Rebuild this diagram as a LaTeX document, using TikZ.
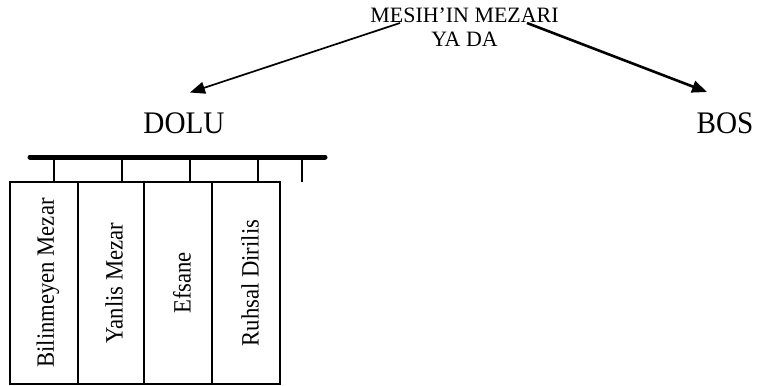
\documentclass[tikz,border=0pt]{standalone}
\usepackage{fontspec}
\setmainfont{Liberation Serif}
\newfontfamily\condserif[FakeStretch=0.91]{Liberation Serif}
\newfontfamily\bigserif[FakeStretch=0.93]{Liberation Serif}
\usetikzlibrary{arrows.meta,calc}
\begin{document}
\begin{tikzpicture}[x=1bp,y=-1bp,
  txt/.style={inner sep=0pt,font=\fontsize{22}{24}\selectfont},
  big/.style={inner sep=0pt,font=\bigserif\fontsize{31.5}{34}\selectfont},
  arr/.style={-{Triangle[length=15bp,width=12bp]}},
  colbox/.style={draw,line width=1.3bp,minimum height=202bp,inner sep=0pt},
  vlabel/.style={inner sep=0pt,rotate=90,font=\condserif\fontsize{25}{27}\selectfont},
  tick/.style={line width=1.3bp},
  bar/.style={line width=5bp,line cap=round}]
\useasboundingbox (0,0) rectangle (757,385);
% title
\node[txt,align=center,anchor=base] (title) at (464.5,46.7) {MESIH’IN MEZARI\\YA DA};
\coordinate (sL) at (400,23);
\coordinate (sR) at (527,23);
% branches
\node[big,anchor=base] (dolu) at (184,133) {DOLU};
\node[big,anchor=base] (bos) at (725,133) {BOS};
\coordinate (eL) at (190,92.5);
\coordinate (eR) at (707,92);
\draw[arr,line width=1.7bp] (sL) -- (eL);
\draw[arr,line width=2.6bp] (sR) -- (eR);
% bar
\coordinate (barL) at (30,157);
\coordinate (barR) at (325,157);
\draw[bar] (barL) -- (barR);
% boxes
\node[colbox,minimum width=68bp] (b1) at (44,283) {};
\node[colbox,minimum width=66bp] (b2) at (111,283) {};
\node[colbox,minimum width=68bp] (b3) at (178,283) {};
\node[colbox,minimum width=68bp] (b4) at (246,283) {};
\node[vlabel] (l1) at ($(b1.center)+(4,0)$) {Bilinmeyen Mezar};
\node[vlabel] (l2) at ($(b2.center)+(3,0)$) {Yanlis Mezar};
\node[vlabel] (l3) at ($(b3.center)+(4,0)$) {Efsane};
\node[vlabel] (l4) at ($(b4.center)+(4,0)$) {Ruhsal Dirilis};
% ticks
\coordinate (t1) at (54,157);
\coordinate (t2) at (122,157);
\coordinate (t3) at (190,157);
\coordinate (t4) at (258,157);
\coordinate (t5) at (302,157);
\coordinate (t5e) at (302,182);
\draw[tick] (t1) -- (t1 |- b1.north);
\draw[tick] (t2) -- (t2 |- b2.north);
\draw[tick] (t3) -- (t3 |- b3.north);
\draw[tick] (t4) -- (t4 |- b4.north);
\draw[tick] (t5) -- (t5e);
\end{tikzpicture}
\end{document}
